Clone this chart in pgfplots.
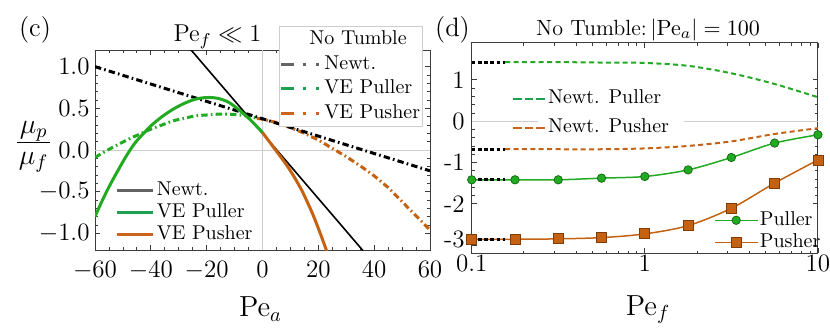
\RequirePackage{fix-cm}
\documentclass[border=0pt]{standalone}
\usepackage{pgfplots}
\pgfplotsset{compat=1.18}
\definecolor{mgreen}{RGB}{34,170,34}
\definecolor{lgreen}{RGB}{30,160,80}
\definecolor{morange}{RGB}{196,98,18}
\definecolor{lorange}{RGB}{204,100,30}
\definecolor{lgray}{RGB}{100,100,100}
\definecolor{gridc}{RGB}{205,205,205}
\definecolor{framec}{RGB}{60,60,60}
\definecolor{mkgreen}{RGB}{20,110,20}
\definecolor{mkorange}{RGB}{130,60,10}
\newcommand\tickfont{\fontsize{12.5}{14}\selectfont}
\newcommand\legfont{\fontsize{10}{12}\selectfont}
\newcommand\labfont{\fontsize{14.5}{17}\selectfont}
\pgfplotsset{
  mystyle/.style={scale only axis, axis line style={framec, line width=0.5pt},
    tick style={framec, line width=0.4pt}, tick align=inside,
    major tick length=2.5pt, minor tick length=1.4pt,
    tick label style={font=\tickfont}},
  ddot/.style={dash pattern=on 3.2pt off 1.6pt on 0.8pt off 1.6pt},
}
\begin{document}
\begin{tikzpicture}
\path[use as bounding box] (0,0) rectangle (415pt,164pt);
% ---------------- left panel ----------------
\begin{axis}[mystyle, at={(47.5pt,39pt)}, anchor=south west, width=167.5pt, height=100pt,
  xmin=-60, xmax=60, ymin=-1.2, ymax=1.2,
  xtick={-60,-40,-20,0,20,40,60}, minor x tick num=3,
  ytick={-1,-0.5,0,0.5,1}, yticklabels={$-1.0$,$-0.5$,$0.0$,$0.5$,$1.0$}, minor y tick num=4,
  xticklabel style={yshift=-2.3pt}, yticklabel style={xshift=0.8pt},
  legend style={at={(0.059,0.357)}, anchor=north west, draw=none, fill=none, inner sep=0pt,
    font=\legfont, row sep=0pt, nodes={inner sep=1pt, text height=7pt, text depth=2pt}},
  legend cell align=left,
  legend image code/.code={\draw[#1] (0pt,0pt) -- (18.3pt,0pt);}]
\draw[gridc, line width=0.4pt] (axis cs:0,-1.2) -- (axis cs:0,1.2);
\draw[gridc, line width=0.4pt] (axis cs:-60,0) -- (axis cs:60,0);
\addplot[forget plot, morange, line width=1.5pt, ddot] coordinates {
(-2,0.38) (0,0.37) (5,0.33) (10,0.27) (15,0.20) (20,0.12) (25,0.02) (30,-0.08) (35,-0.19) (40,-0.31) (45,-0.45) (50,-0.62) (55,-0.79) (60,-0.96)};
\addplot[forget plot, mgreen, line width=1.5pt, ddot, smooth] coordinates {
(-60,-0.09) (-56,-0.01) (-52,0.06) (-48,0.13) (-44,0.19) (-40,0.25) (-36,0.30) (-32,0.35) (-28,0.38) (-24,0.41) (-20,0.42) (-16,0.43) (-12,0.43) (-8,0.42) (-4,0.40) (-2,0.38)};
\addplot[forget plot, black, line width=1.5pt, ddot] coordinates {(-60,1.0) (60,-0.25)};
\addplot[forget plot, black, line width=0.8pt] coordinates {(-26,1.217) (36,-1.208)};
\addplot[forget plot, mgreen, line width=1.5pt, smooth] coordinates {
(-60,-0.80) (-58,-0.65) (-56,-0.51) (-54,-0.38) (-52,-0.26) (-50,-0.14) (-48,-0.03) (-46,0.07) (-44,0.15) (-42,0.22) (-40,0.29) (-36,0.40) (-32,0.49) (-28,0.56) (-24,0.61) (-20,0.63) (-16,0.62) (-12,0.57) (-8,0.47) (-4,0.35) (0,0.21)};
\addplot[forget plot, morange, line width=1.5pt, smooth] coordinates {
(0,0.21) (2,0.12) (4,0.03) (6,-0.06) (8,-0.15) (10,-0.25) (12,-0.36) (14,-0.48) (16,-0.62) (18,-0.77) (20,-0.94) (22,-1.12) (24,-1.31)};
\addlegendimage{lgray, line width=1.5pt}\addlegendentry{Newt.}
\addlegendimage{lgreen, line width=1.5pt}\addlegendentry{VE Puller}
\addlegendimage{lorange, line width=1.5pt}\addlegendentry{VE Pusher}
\end{axis}
% overlay legend "No Tumble"
\begin{axis}[at={(47.5pt,39pt)}, anchor=south west, width=167.5pt, height=100pt, scale only axis,
  hide axis, xmin=0, xmax=1, ymin=0, ymax=1,
  legend style={at={(0.549,1.12)}, anchor=north west, draw=gridc, fill=white, line width=0.5pt,
    inner xsep=0pt, inner ysep=1.05pt, font=\legfont, row sep=1.3pt,
    nodes={inner sep=1pt, text height=7pt, text depth=2pt}},
  legend cell align=left,
  legend image code/.code={\draw[#1] (0pt,0pt) -- (20pt,0pt);}]
\addlegendimage{empty legend}\addlegendentry{\hspace{-7.5pt}No Tumble}
\addlegendimage{lgray, line width=1.5pt, dash pattern=on 6.3pt off 4.7pt on 1.4pt off 5pt on 1.4pt off 10pt}\addlegendentry{Newt.}
\addlegendimage{lgreen, line width=1.5pt, dash pattern=on 6.3pt off 4.7pt on 1.4pt off 5pt on 1.4pt off 10pt}\addlegendentry{VE Puller}
\addlegendimage{lorange, line width=1.5pt, dash pattern=on 6.3pt off 4.7pt on 1.4pt off 5pt on 1.4pt off 10pt}\addlegendentry{VE Pusher}
\end{axis}
% ---------------- right panel ----------------
\begin{axis}[mystyle, at={(235.85pt,37.35pt)}, anchor=south west, width=173.1pt, height=105.3pt,
  xmode=log, xmin=0.1, xmax=10, ymin=-3.2, ymax=1.9,
  xtick={0.1,1,10}, xticklabels={0.1,1,10},
  minor xtick={0.2,0.3,0.4,0.5,0.6,0.7,0.8,0.9,2,3,4,5,6,7,8,9},
  ytick={-2,-1,0,1}, yticklabels={-2,-1,0,1}, minor y tick num=4,
  extra y ticks={-3}, extra y tick labels={-3},
  extra y tick style={yticklabel style={yshift=2.6pt}, minor y tick num=4},
  xticklabel style={yshift=2.5pt},
  legend style={at={(0.700,0.211)}, anchor=north west, draw=none, fill=none, inner sep=0pt,
    font=\legfont, row sep=0pt, nodes={inner sep=1pt, text height=7pt, text depth=2pt}},
  legend cell align=left,
  legend image code/.code={\draw[mark repeat=2, mark phase=2, #1] plot coordinates {(0pt,0pt) (10.5pt,0pt) (21pt,0pt)};}]
\draw[gridc, line width=0.4pt] (axis cs:0.1,0) -- (axis cs:0.242,0);
\draw[gridc, line width=0.4pt] (axis cs:1.68,0) -- (axis cs:10,0);
\addplot[forget plot, mgreen, line width=1pt, dash pattern=on 2.5pt off 1.7pt, smooth] coordinates {
(0.156,1.43) (0.31623,1.43) (0.56234,1.42) (1,1.41) (1.77828,1.34) (3.16228,1.16) (5.62341,0.90) (10,0.58)};
\addplot[forget plot, morange, line width=1pt, dash pattern=on 2.5pt off 1.7pt, smooth] coordinates {
(0.156,-0.68) (0.31623,-0.68) (0.56234,-0.68) (1,-0.66) (1.77828,-0.60) (3.16228,-0.49) (5.62341,-0.31) (10,-0.17)};
\addplot[mgreen, line width=0.75pt, smooth, mark=*, mark size=2.1pt, mark options={solid, fill=mgreen, draw=mkgreen, line width=0.4pt}] coordinates {
(0.1,-1.42) (0.17783,-1.42) (0.31623,-1.42) (0.56234,-1.38) (1,-1.34) (1.77828,-1.18) (3.16228,-0.88) (5.62341,-0.53) (10,-0.33)};
\addlegendentry{Puller}
\addplot[morange, line width=0.75pt, smooth, mark=square*, mark size=2.5pt, mark options={solid, fill=morange, draw=mkorange, line width=0.4pt}] coordinates {
(0.1,-2.86) (0.17783,-2.86) (0.31623,-2.85) (0.56234,-2.82) (1,-2.73) (1.77828,-2.53) (3.16228,-2.11) (5.62341,-1.50) (10,-0.94)};
\addlegendentry{Pusher}
\addplot[forget plot, black, line width=1.6pt, dash pattern=on 1.8pt off 1.3pt] coordinates {(0.1,1.43) (0.156,1.43)};
\addplot[forget plot, black, line width=1.6pt, dash pattern=on 1.8pt off 1.3pt] coordinates {(0.1,-0.68) (0.156,-0.68)};
\addplot[forget plot, black, line width=1.6pt, dash pattern=on 1.8pt off 1.3pt] coordinates {(0.1,-1.42) (0.156,-1.42)};
\addplot[forget plot, black, line width=1.6pt, dash pattern=on 1.8pt off 1.3pt] coordinates {(0.1,-2.86) (0.156,-2.86)};
\end{axis}
% overlay legend "Newt."
\begin{axis}[at={(235.85pt,37.35pt)}, anchor=south west, width=173.1pt, height=105.3pt, scale only axis,
  hide axis, xmin=0, xmax=1, ymin=0, ymax=1,
  legend style={at={(0.1155,0.788)}, anchor=north west, draw=none, fill=none, inner sep=0pt,
    font=\legfont, row sep=3.5pt, nodes={inner sep=1pt, text height=7pt, text depth=2pt}},
  legend cell align=left,
  legend image code/.code={\draw[#1] (0pt,0pt) -- (15.8pt,0pt);}]
\addlegendimage{lgreen, line width=1.2pt, dash pattern=on 4.2pt off 1.6pt}\addlegendentry{Newt. Puller}
\addlegendimage{lorange, line width=1.2pt, dash pattern=on 4.2pt off 1.6pt}\addlegendentry{Newt. Pusher}
\end{axis}
% ---------------- texts ----------------
\node[font=\fontsize{13.3}{15}\selectfont, anchor=base] at (17.5pt,145.65pt) {(c)};
\node[font=\fontsize{12.2}{14}\selectfont, anchor=base] at (108.75pt,143.15pt) {$\mathrm{Pe}_f \ll 1$};
\node[font=\fontsize{13.3}{15}\selectfont, anchor=base] at (226.25pt,145.65pt) {(d)};
\node[font=\fontsize{11}{13}\selectfont, anchor=base] at (324pt,146.5pt) {No Tumble:\,$|\mathrm{Pe}_a| = 100$};
\node[font=\labfont, anchor=base] at (130.25pt,5.65pt) {Pe$_a$};
\node[font=\labfont, anchor=base] at (324pt,6.5pt) {Pe$_f$};
% y label: mu_p over mu_f
\node[font=\fontsize{14}{16}\selectfont, anchor=base, inner sep=0pt] at (16.85pt,97.2pt) {$\mu_p$};
\draw[line width=0.6pt] (8.6pt,92.85pt) -- (25.1pt,92.85pt);
\node[font=\fontsize{14}{16}\selectfont, anchor=base, inner sep=0pt] at (16.85pt,81.85pt) {$\mu_f$};
\end{tikzpicture}
\end{document}
